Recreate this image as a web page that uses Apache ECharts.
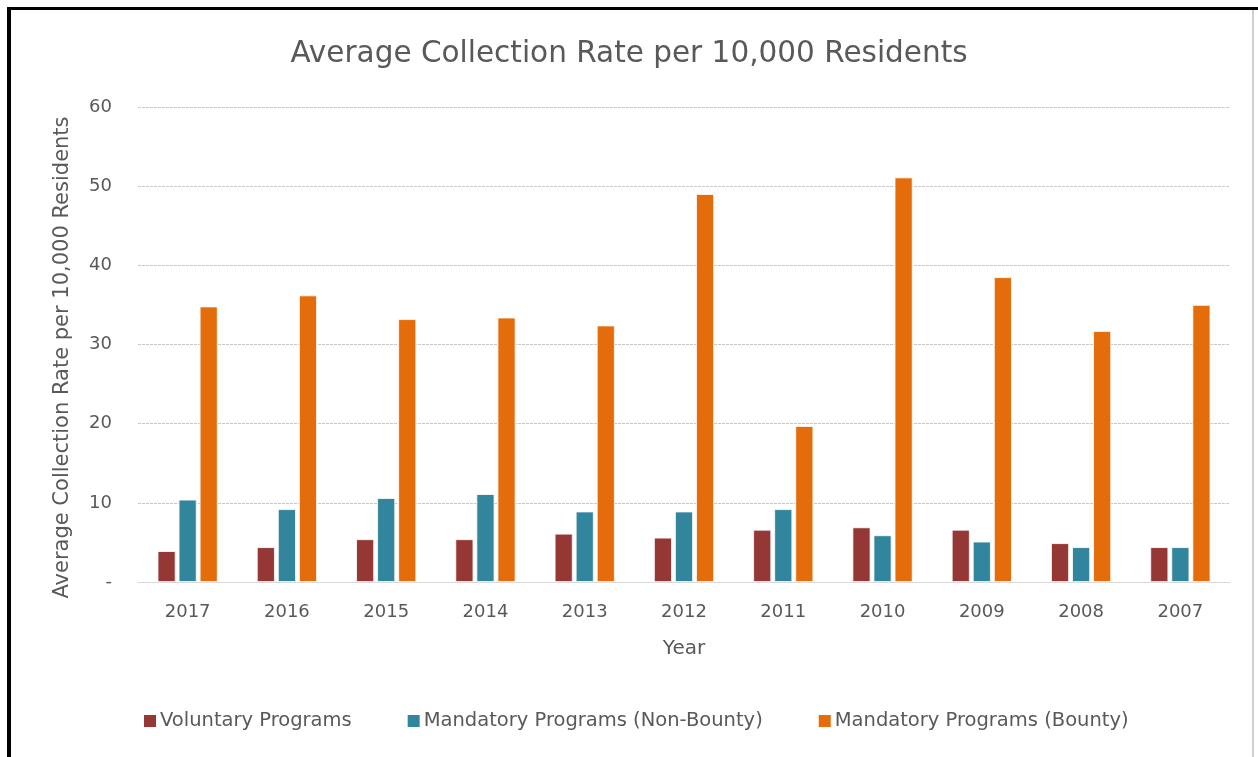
<!DOCTYPE html>
<html>
<head>
<meta charset="utf-8">
<script src="https://cdn.jsdelivr.net/npm/echarts@6/dist/echarts.min.js"></script>
<style>
html,body{margin:0;padding:0;background:#fff;}
#chart{width:1258px;height:757px;}
</style>
</head>
<body>
<div id="chart"></div>
<script>
const years = ['2017','2016','2015','2014','2013','2012','2011','2010','2009','2008','2007'];
const voluntary = [3.9, 4.4, 5.4, 5.4, 6.1, 5.6, 6.6, 6.9, 6.6, 4.9, 4.4];
const nonBounty = [10.4, 9.2, 10.6, 11.1, 8.9, 8.9, 9.2, 5.9, 5.1, 4.4, 4.4];
const bounty = [34.8, 36.2, 33.2, 33.4, 32.4, 49.0, 19.7, 51.1, 38.5, 31.7, 35.0];
const seriesNames = ['Voluntary Programs', 'Mandatory Programs (Non-Bounty)', 'Mandatory Programs (Bounty)'];

const FONT = '"DejaVu Sans", "Open Sans", sans-serif';
const TXT = '#595959';
const chart = echarts.init(document.getElementById('chart'), null, {renderer: 'canvas'});
function bar(name, data, color) {
  return {
    name: name, type: 'bar', data: data, barWidth: 18, barGap: '17%',
    itemStyle: {color: color, borderColor: '#ffffff', borderWidth: 0.8},
    emphasis: {disabled: true}
  };
}
chart.setOption({
  animation: false,
  backgroundColor: '#ffffff',
  textStyle: {fontFamily: FONT},
  title: {
    text: 'Average Collection Rate per 10,000 Residents',
    left: 'center', top: 34,
    textStyle: {fontFamily: FONT, fontSize: 29.5, fontWeight: 'normal', color: TXT}
  },
  legend: {
    data: seriesNames, bottom: 21, left: 137,
    itemWidth: 14, itemHeight: 14, itemGap: 54, icon: 'rect',
    textStyle: {fontFamily: FONT, fontSize: 19.5, color: TXT, padding: [0, 0, 0, -2]}
  },
  grid: {left: 138, right: 28, top: 107, bottom: 175, containLabel: false},
  xAxis: {
    type: 'category', data: years,
    name: 'Year', nameLocation: 'middle', nameGap: 57,
    nameTextStyle: {fontFamily: FONT, fontSize: 20, color: TXT},
    axisLine: {lineStyle: {color: '#d9d9d9', width: 1}},
    axisTick: {show: false},
    axisLabel: {fontFamily: FONT, fontSize: 18, color: TXT, margin: 21}
  },
  yAxis: {
    type: 'value', min: 0, max: 60, interval: 10,
    name: 'Average Collection Rate per 10,000 Residents',
    nameLocation: 'middle', nameGap: 65,
    nameTextStyle: {fontFamily: FONT, fontSize: 21, color: TXT, padding: [0, 26, 0, 0]},
    axisLine: {show: false}, axisTick: {show: false},
    axisLabel: {fontFamily: FONT, fontSize: 18, color: TXT, margin: 26,
      formatter: v => v === 0 ? '-' : String(v)},
    splitLine: {lineStyle: {color: '#c8c8c8', type: [3, 1], width: 1}}
  },
  graphic: [
    {type: 'rect', shape: {x: 7, y: 7, width: 1251, height: 3}, style: {fill: '#000'}, z: 100},
    {type: 'rect', shape: {x: 7, y: 7, width: 4, height: 750}, style: {fill: '#000'}, z: 100},
    {type: 'rect', shape: {x: 1252, y: 10, width: 2, height: 747}, style: {fill: '#d0d0d0'}, z: 100}
  ],
  series: [
    bar(seriesNames[0], voluntary, '#953735'),
    bar(seriesNames[1], nonBounty, '#31859c'),
    bar(seriesNames[2], bounty, '#e46c0a')
  ]
});
</script>
</body>
</html>
